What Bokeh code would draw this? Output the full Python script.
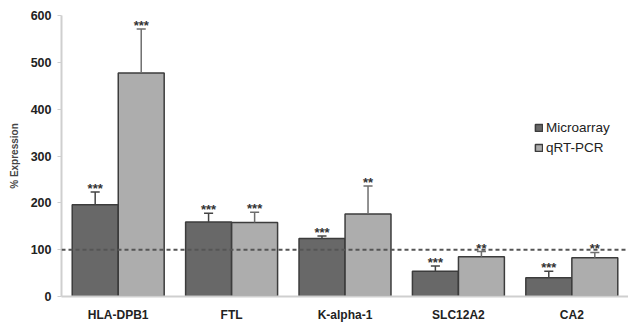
from bokeh.plotting import figure
from bokeh.models import ColumnDataSource, FactorRange, Span, Legend, LegendItem, Range1d
from bokeh.transform import dodge
from bokeh.core.properties import value
from bokeh.embed import file_html
from bokeh.resources import INLINE

genes = ["HLA-DPB1", "FTL", "K-alpha-1", "SLC12A2", "CA2"]
micro = [196, 159, 124, 54, 40]
micro_err = [27, 19, 5, 11, 14]
qpcr = [477, 158, 176, 85, 83]
qpcr_err = [94, 22, 60, 11, 11]
micro_sig = ["***", "***", "***", "***", "***"]
qpcr_sig = ["***", "***", "**", "**", "**"]

src = ColumnDataSource(dict(
    gene=genes, micro=micro, qpcr=qpcr,
    micro_top=[m + e for m, e in zip(micro, micro_err)],
    qpcr_top=[q + e for q, e in zip(qpcr, qpcr_err)],
    micro_sig=micro_sig, qpcr_sig=qpcr_sig,
))

p = figure(x_range=FactorRange(factors=genes, range_padding=0),
           y_range=Range1d(0, 600),
           width=628, height=325, output_backend="svg", toolbar_location=None,
           min_border_left=61, min_border_right=0, min_border_top=15, min_border_bottom=29)
p.outline_line_color = None
p.grid.grid_line_color = None
p.background_fill_color = "white"

off = 0.203
bw = 0.405
DARK = "#686868"
LIGHT = "#adadad"
EDGE = "#3c3c3c"

r1 = p.vbar(x=dodge("gene", -off, range=p.x_range), top="micro", width=bw, source=src,
            fill_color=DARK, line_color=EDGE, line_width=1.5)
r2 = p.vbar(x=dodge("gene", off, range=p.x_range), top="qpcr", width=bw, source=src,
            fill_color=LIGHT, line_color=EDGE, line_width=1.5)

cap = 0.04
for o, top, base, col in [(-off, "micro_top", "micro", "#444444"), (off, "qpcr_top", "qpcr", "#6e6e6e")]:
    p.segment(x0=dodge("gene", o, range=p.x_range), y0=base,
              x1=dodge("gene", o, range=p.x_range), y1=top,
              source=src, line_color=col, line_width=1.5)
    p.segment(x0=dodge("gene", o - cap, range=p.x_range), y0=top,
              x1=dodge("gene", o + cap, range=p.x_range), y1=top,
              source=src, line_color=col, line_width=1.5)

for o, top, sig in [(-off, "micro_top", "micro_sig"), (off, "qpcr_top", "qpcr_sig")]:
    p.text(x=dodge("gene", o, range=p.x_range), y=top, text=sig, source=src,
           text_align="center", text_baseline="bottom", y_offset=4,
           text_font=value("Liberation Sans"), text_font_size="13px",
           text_font_style="bold", text_color="#333333")

p.add_layout(Span(location=100, dimension="width", line_color="#555555",
                  line_dash="4 3", line_width=2))

p.yaxis.ticker = [0, 100, 200, 300, 400, 500, 600]
p.yaxis.axis_label = "% Expression"
p.yaxis.axis_label_text_font = "Liberation Sans"
p.yaxis.axis_label_text_font_size = "10px"
p.yaxis.axis_label_text_font_style = "bold"
p.yaxis.axis_label_standoff = 8
for ax in (p.xaxis, p.yaxis):
    ax.axis_line_color = "#cfcfcf"
    ax.axis_line_width = 2
    ax.major_label_text_font = "Liberation Sans"
    ax.major_label_text_font_style = "bold"
    ax.major_label_text_color = "#222222"
    ax.minor_tick_line_color = None
p.yaxis.major_label_text_font_size = "12.5px"
p.xaxis.major_label_text_font_size = "12px"
p.yaxis.major_tick_line_color = "#cfcfcf"
p.yaxis.major_tick_in = 0
p.yaxis.major_tick_out = 4
p.yaxis.major_label_standoff = 6
p.xaxis.major_tick_line_color = None
p.xaxis.major_label_standoff = 5

legend = Legend(items=[LegendItem(label="Microarray", renderers=[r1]),
                       LegendItem(label="qRT-PCR", renderers=[r2])],
                location=(473, 141), border_line_color=None, background_fill_alpha=0,
                label_text_font="Liberation Sans", label_text_font_size="13.5px",
                label_text_color="#222222", glyph_width=9, glyph_height=9,
                label_height=12, spacing=5, padding=2, label_standoff=3)
p.add_layout(legend)

open("out.html", "w").write(file_html(p, INLINE))
